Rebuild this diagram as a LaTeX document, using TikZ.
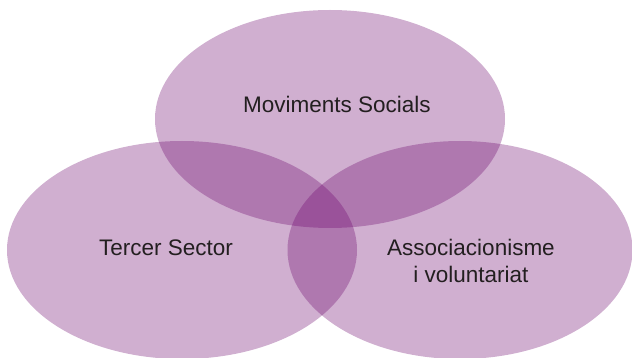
\documentclass[tikz,border=0pt]{standalone}
\usepackage{fontspec}
\setmainfont{Liberation Sans}
\usetikzlibrary{shapes.geometric}
\definecolor{venn}{RGB}{108,5,108}
\definecolor{txt}{RGB}{35,31,32}
\tikzset{
  circ/.style={ellipse, fill=venn, fill opacity=0.32, draw=none, inner sep=0pt,
    minimum width=350pt, minimum height=218pt},
  lbl/.style={text=txt, font=\fontsize{22.5}{28}\selectfont, inner sep=0pt, align=center, anchor=base}
}
\begin{document}
\begin{tikzpicture}[x=1pt,y=-1pt]
\useasboundingbox (0,0) rectangle (632,358);
\node[circ] (top) at (330,119) {};
\node[circ] (left) at (182,250) {};
\node[circ, minimum width=345pt] (right) at (460,250) {};
\node[lbl] (ms) at (337,113) {Moviments Socials};
\node[lbl] (ts) at (166,255) {Tercer Sector};
\node[lbl] (av) at (471,283) {Associacionisme\\i voluntariat};
\end{tikzpicture}
\end{document}
